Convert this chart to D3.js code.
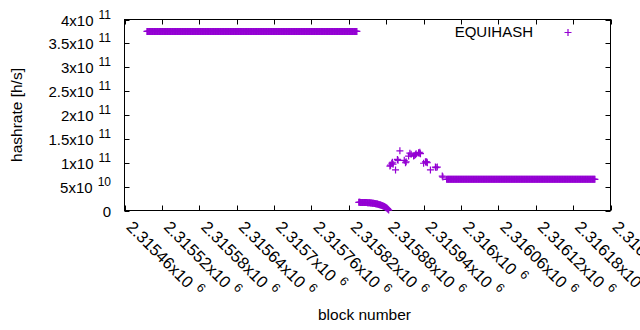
<!DOCTYPE html>
<html>
<head>
<meta charset="utf-8">
<title>EQUIHASH hashrate</title>
<script src="https://cdn.jsdelivr.net/npm/d3@7"></script>
<style>
  body { margin: 0; background: #fff; }
  text { font-family: "Liberation Sans", Arial, sans-serif; fill: #000; }
</style>
</head>
<body>
<script>
// flat runs: one point per block, same hashrate
var runStart = [2315496, 2315977];
var runEnd   = [2315833, 2316215];
var runRate  = [3.75e11, 6.53e10];

// the slide right after the first run, one value per block from 2315836
var dropFirst = 2315836;
var dropRates = [1.72e10, 1.71e10, 1.71e10, 1.70e10, 1.70e10, 1.69e10, 1.69e10, 1.68e10,
                 1.68e10, 1.67e10, 1.67e10, 1.66e10, 1.65e10, 1.65e10, 1.64e10,
                 1.63e10, 1.62e10, 1.61e10, 1.60e10, 1.59e10, 1.57e10, 1.56e10, 1.54e10,
                 1.52e10, 1.50e10,
                 1.48e10, 1.45e10, 1.43e10, 1.40e10, 1.37e10, 1.34e10, 1.30e10, 1.27e10,
                 1.23e10, 1.19e10,
                 1.15e10, 1.10e10, 1.05e10, 1.00e10, 9.4e9, 8.8e9, 8.2e9, 7.5e9, 6.8e9, 6.0e9,
                 5.0e9, 3.8e9, 2.4e9, 0.8e9];

// scattered points between the two runs
var spikeBlocks = [2315886, 2315887, 2315889, 2315890, 2315891, 2315895, 2315898, 2315899,
                   2315902, 2315909, 2315911, 2315912, 2315916, 2315918, 2315920, 2315924,
                   2315925, 2315927, 2315928, 2315932, 2315933, 2315934, 2315935, 2315940,
                   2315943, 2315944, 2315945, 2315946, 2315951, 2315959, 2315960, 2315962,
                   2315970, 2315971];
var spikeRates  = [9.3e10, 9.5e10, 9.9e10, 1.01e11, 9.7e10, 8.5e10, 1.07e11, 1.05e11,
                   1.25e11, 1.05e11, 1.00e11, 1.02e11, 1.14e11, 1.20e11, 1.18e11, 1.14e11,
                   1.15e11, 1.17e11, 1.19e11, 1.21e11, 1.20e11, 1.22e11, 1.19e11, 9.9e10,
                   1.02e11, 1.01e11, 1.02e11, 1.00e11, 8.5e10, 9.1e10, 9.0e10, 9.1e10,
                   7.2e10, 7.0e10];

var xTicks = [2315460, 2315520, 2315580, 2315640, 2315700, 2315760, 2315820,
              2315880, 2315940, 2316000, 2316060, 2316120, 2316180, 2316240];
var yTicks = [0, 5e10, 1e11, 1.5e11, 2e11, 2.5e11, 3e11, 3.5e11, 4e11];

var w = 640, h = 330;
var pLeft = 124.5, pRight = 610.5, pTop = 19.5, pBottom = 210.5;
var color = "#9400d3";

var x = d3.scaleLinear().domain([2315460, 2316240]).range([pLeft, pRight]);
var y = d3.scaleLinear().domain([0, 4e11]).range([pBottom, pTop]);

var svg = d3.select("body").append("svg")
    .attr("width", w).attr("height", h);

// split a number into mantissa and exponent the way gnuplot prints it
function sci(v) {
  if (v === 0) return ["0", null];
  var e = Math.floor(Math.log10(v));
  var m = +(v / Math.pow(10, e)).toPrecision(6);
  return [m + "x10", String(e)];
}

// border
svg.append("rect")
    .attr("x", pLeft).attr("y", pTop)
    .attr("width", pRight - pLeft).attr("height", pBottom - pTop)
    .attr("fill", "none").attr("stroke", "#000").attr("stroke-width", 1);

// ticks, inward on all four sides
var tl = 5;
svg.selectAll(".yt").data(yTicks).enter().append("path")
    .attr("d", function(d) {
      var yy = Math.round(y(d)) + 0.5;
      return "M" + pLeft + "," + yy + "h" + tl + "M" + pRight + "," + yy + "h" + (-tl);
    })
    .attr("stroke", "#000");
svg.selectAll(".xt").data(xTicks).enter().append("path")
    .attr("d", function(d) {
      var xx = Math.round(x(d)) + 0.5;
      return "M" + xx + "," + pBottom + "v" + (-tl) + "M" + xx + "," + pTop + "v" + tl;
    })
    .attr("stroke", "#000");

// y tick labels
svg.selectAll(".yl").data(yTicks).enter().append("text")
    .attr("x", 111).attr("y", function(d) { return y(d) + 6; })
    .attr("text-anchor", "end")
    .attr("font-size", 15)
    .each(function(d) {
      var p = sci(d), t = d3.select(this);
      t.append("tspan").text(p[0]);
      if (p[1]) t.append("tspan").attr("dx", 5).attr("dy", -7)
          .attr("font-size", 12).text(p[1]);
    });

// x tick labels, rotated
svg.selectAll(".xl").data(xTicks).enter().append("text")
    .attr("transform", function(d) {
      return "translate(" + (x(d) + 1) + ",228) rotate(45)";
    })
    .attr("font-size", 16.5)
    .each(function(d) {
      var p = sci(d), t = d3.select(this);
      t.append("tspan").text(p[0]);
      t.append("tspan").attr("dx", 6).attr("dy", -7)
          .attr("font-size", 12.5).text(p[1]);
    });

// axis titles
svg.append("text")
    .attr("transform", "translate(22," + ((pTop + pBottom) / 2) + ") rotate(-90)")
    .attr("text-anchor", "middle").attr("font-size", 15.5)
    .text("hashrate [h/s]");
svg.append("text")
    .attr("x", (pLeft + pRight) / 2 - 3).attr("y", 320)
    .attr("text-anchor", "middle").attr("font-size", 15.5)
    .text("block number");

// build point list
var pts = [];
runStart.forEach(function(s, i) {
  d3.range(s, runEnd[i] + 1).forEach(function(b) { pts.push([b, runRate[i]]); });
});
dropRates.forEach(function(r, i) { pts.push([dropFirst + i, r]); });
spikeBlocks.forEach(function(b, i) { pts.push([b, spikeRates[i]]); });

var half = 3.5;
var cross = "M" + (-half) + ",0H" + half + "M0," + (-half) + "V" + half;
svg.selectAll(".pt").data(pts).enter().append("path")
    .attr("transform", function(d) {
      return "translate(" + x(d[0]) + "," + y(d[1]) + ")";
    })
    .attr("d", cross)
    .attr("stroke", color).attr("stroke-width", 1.2)
    .attr("fill", "none");

// legend
svg.append("text")
    .attr("x", 533).attr("y", 37)
    .attr("text-anchor", "end").attr("font-size", 15)
    .text("EQUIHASH");
svg.append("path")
    .attr("transform", "translate(568,32.5)")
    .attr("d", cross)
    .attr("stroke", color).attr("stroke-width", 1.2);
</script>
</body>
</html>
